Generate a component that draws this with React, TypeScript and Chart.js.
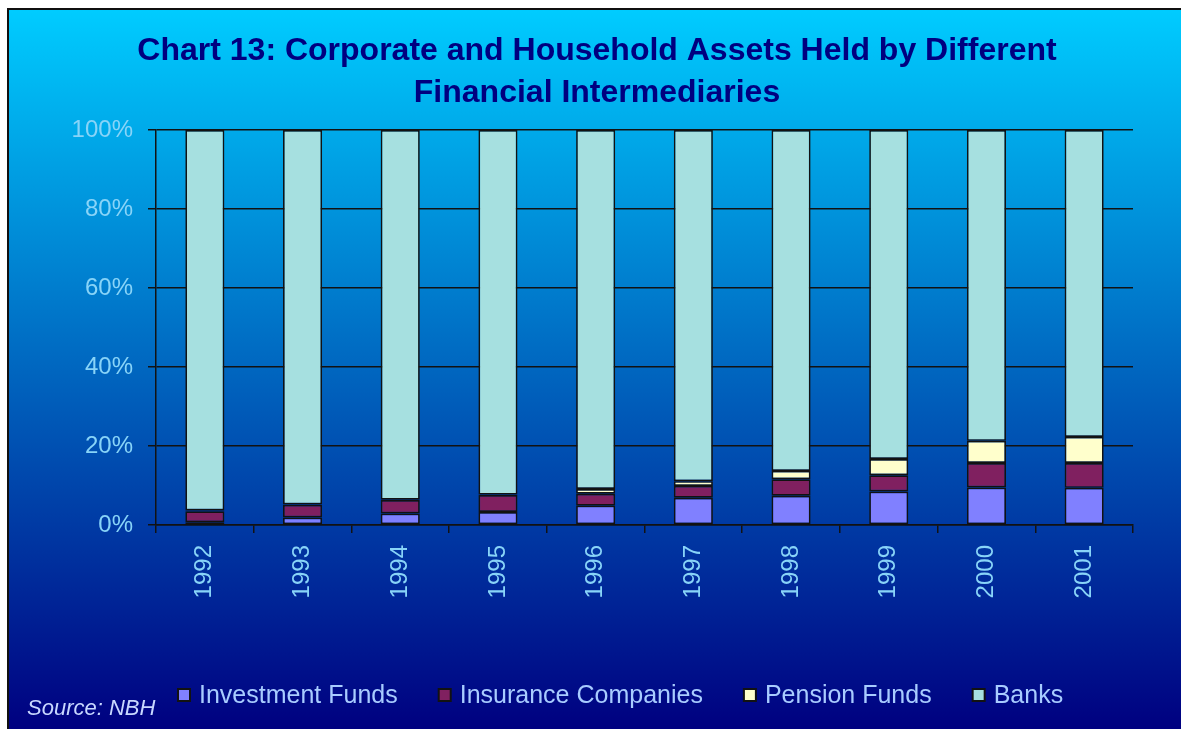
import React, { useEffect, useRef } from "react";
import { Chart, registerables } from "chart.js";

Chart.register(...registerables);

const categories = ["1992", "1993", "1994", "1995", "1996", "1997", "1998", "1999", "2000", "2001"];
const investmentFunds = [0.7, 1.9, 2.9, 3.3, 4.9, 6.9, 7.4, 8.5, 9.5, 9.4];
const insuranceCompanies = [2.8, 3.2, 3.4, 4.3, 3.0, 3.0, 4.2, 4.1, 6.2, 6.3];
const pensionFunds = [0.2, 0.1, 0.1, 0.1, 1.2, 1.2, 2.1, 4.1, 5.6, 6.6];
const banks = [96.3, 94.8, 93.6, 92.3, 90.9, 88.9, 86.3, 83.3, 78.7, 77.7];
const seriesLabels = ["Investment Funds", "Insurance Companies", "Pension Funds", "Banks"];
const seriesColors = ["#8080FF", "#802060", "#FFFFCC", "#A6E0E0"];
const yTicks = [0, 20, 40, 60, 80, 100];

const titleLines = ["Chart 13: Corporate and Household Assets Held by Different", "Financial Intermediaries"];
const sourceText = "Source: NBH";

const CANVAS_W = 1172;
const CANVAS_H = 719;
const AREA_BOTTOM = 515;
const FONT = "'Liberation Sans', Arial, sans-serif";
const BORDER = "#121212";

const textPlugin = {
  id: "textPlugin",
  afterDraw(chart: any) {
    const ctx = chart.ctx;
    ctx.save();
    // title
    ctx.fillStyle = "#000080";
    ctx.font = `bold 32px ${FONT}`;
    ctx.textAlign = "center";
    ctx.textBaseline = "middle";
    ctx.fillText(titleLines[0], 588, 41);
    ctx.fillText(titleLines[1], 588, 83);
    // source note
    ctx.font = `italic 22px ${FONT}`;
    ctx.fillStyle = "#C8D8FF";
    ctx.textAlign = "left";
    ctx.fillText(sourceText, 18, 699);
    // legend built from the datasets
    ctx.font = `25px ${FONT}`;
    const cy = 685;
    let x = 168;
    chart.data.datasets.forEach((ds: any) => {
      ctx.fillStyle = ds.backgroundColor;
      ctx.fillRect(x + 1, cy - 6, 12, 12);
      ctx.strokeStyle = BORDER;
      ctx.lineWidth = 2;
      ctx.strokeRect(x + 1, cy - 6, 12, 12);
      ctx.fillStyle = "#A8CCFF";
      ctx.fillText(ds.label, x + 22, cy + 1);
      x += 22 + ctx.measureText(ds.label).width + 40;
    });
    ctx.restore();
  },
};

export default function App() {
  const ref = useRef<HTMLCanvasElement | null>(null);

  useEffect(() => {
    if (!ref.current) return;
    const seriesData = [investmentFunds, insuranceCompanies, pensionFunds, banks];
    const chart = new Chart(ref.current, {
      type: "bar",
      data: {
        labels: categories,
        datasets: seriesData.map((d, i) => ({
          label: seriesLabels[i],
          data: d,
          backgroundColor: seriesColors[i],
          borderColor: BORDER,
          borderWidth: 1.7,
          borderSkipped: false,
          categoryPercentage: 1,
          barPercentage: 0.4,
        })),
      },
      options: {
        responsive: false,
        animation: false,
        devicePixelRatio: 1,
        layout: { padding: { left: 0, right: 48, top: 120, bottom: 0 } },
        plugins: {
          title: { display: false },
          tooltip: { enabled: false },
          legend: { display: false },
        },
        scales: {
          x: {
            stacked: true,
            grid: { display: true, drawOnChartArea: false, drawTicks: true, tickLength: 8, color: BORDER, lineWidth: 1.5, offset: true },
            border: { display: true, color: BORDER, width: 1.5 },
            ticks: {
              minRotation: 90,
              maxRotation: 90,
              padding: 12,
              color: "#88D4F8",
              font: { size: 24, family: FONT },
            },
            afterFit: (scale: any) => {
              scale.height = CANVAS_H - AREA_BOTTOM;
            },
          },
          y: {
            stacked: true,
            min: 0,
            max: 100,
            afterBuildTicks: (scale: any) => {
              scale.ticks = yTicks.map((v) => ({ value: v }));
            },
            grid: { color: BORDER, lineWidth: 1.5, drawTicks: true, tickLength: 8 },
            border: { display: true, color: BORDER, width: 1.5 },
            ticks: {
              padding: 15,
              color: "#88D4F8",
              font: { size: 24, family: FONT },
              callback: (v: any) => v + "%",
            },
            afterFit: (scale: any) => {
              scale.width = 147;
            },
          },
        },
      },
      plugins: [textPlugin],
    });
    return () => chart.destroy();
  }, []);

  return (
    <div
      style={{
        position: "fixed",
        left: 7,
        top: 8,
        width: CANVAS_W,
        height: CANVAS_H,
        borderLeft: "2px solid #101010",
        borderTop: "2px solid #101010",
        overflow: "hidden",
        background: "linear-gradient(to bottom, #00CCFF 0%, #000080 100%)",
      }}
    >
      <canvas ref={ref} width={CANVAS_W} height={CANVAS_H} style={{ display: "block", width: CANVAS_W, height: CANVAS_H }} />
    </div>
  );
}
